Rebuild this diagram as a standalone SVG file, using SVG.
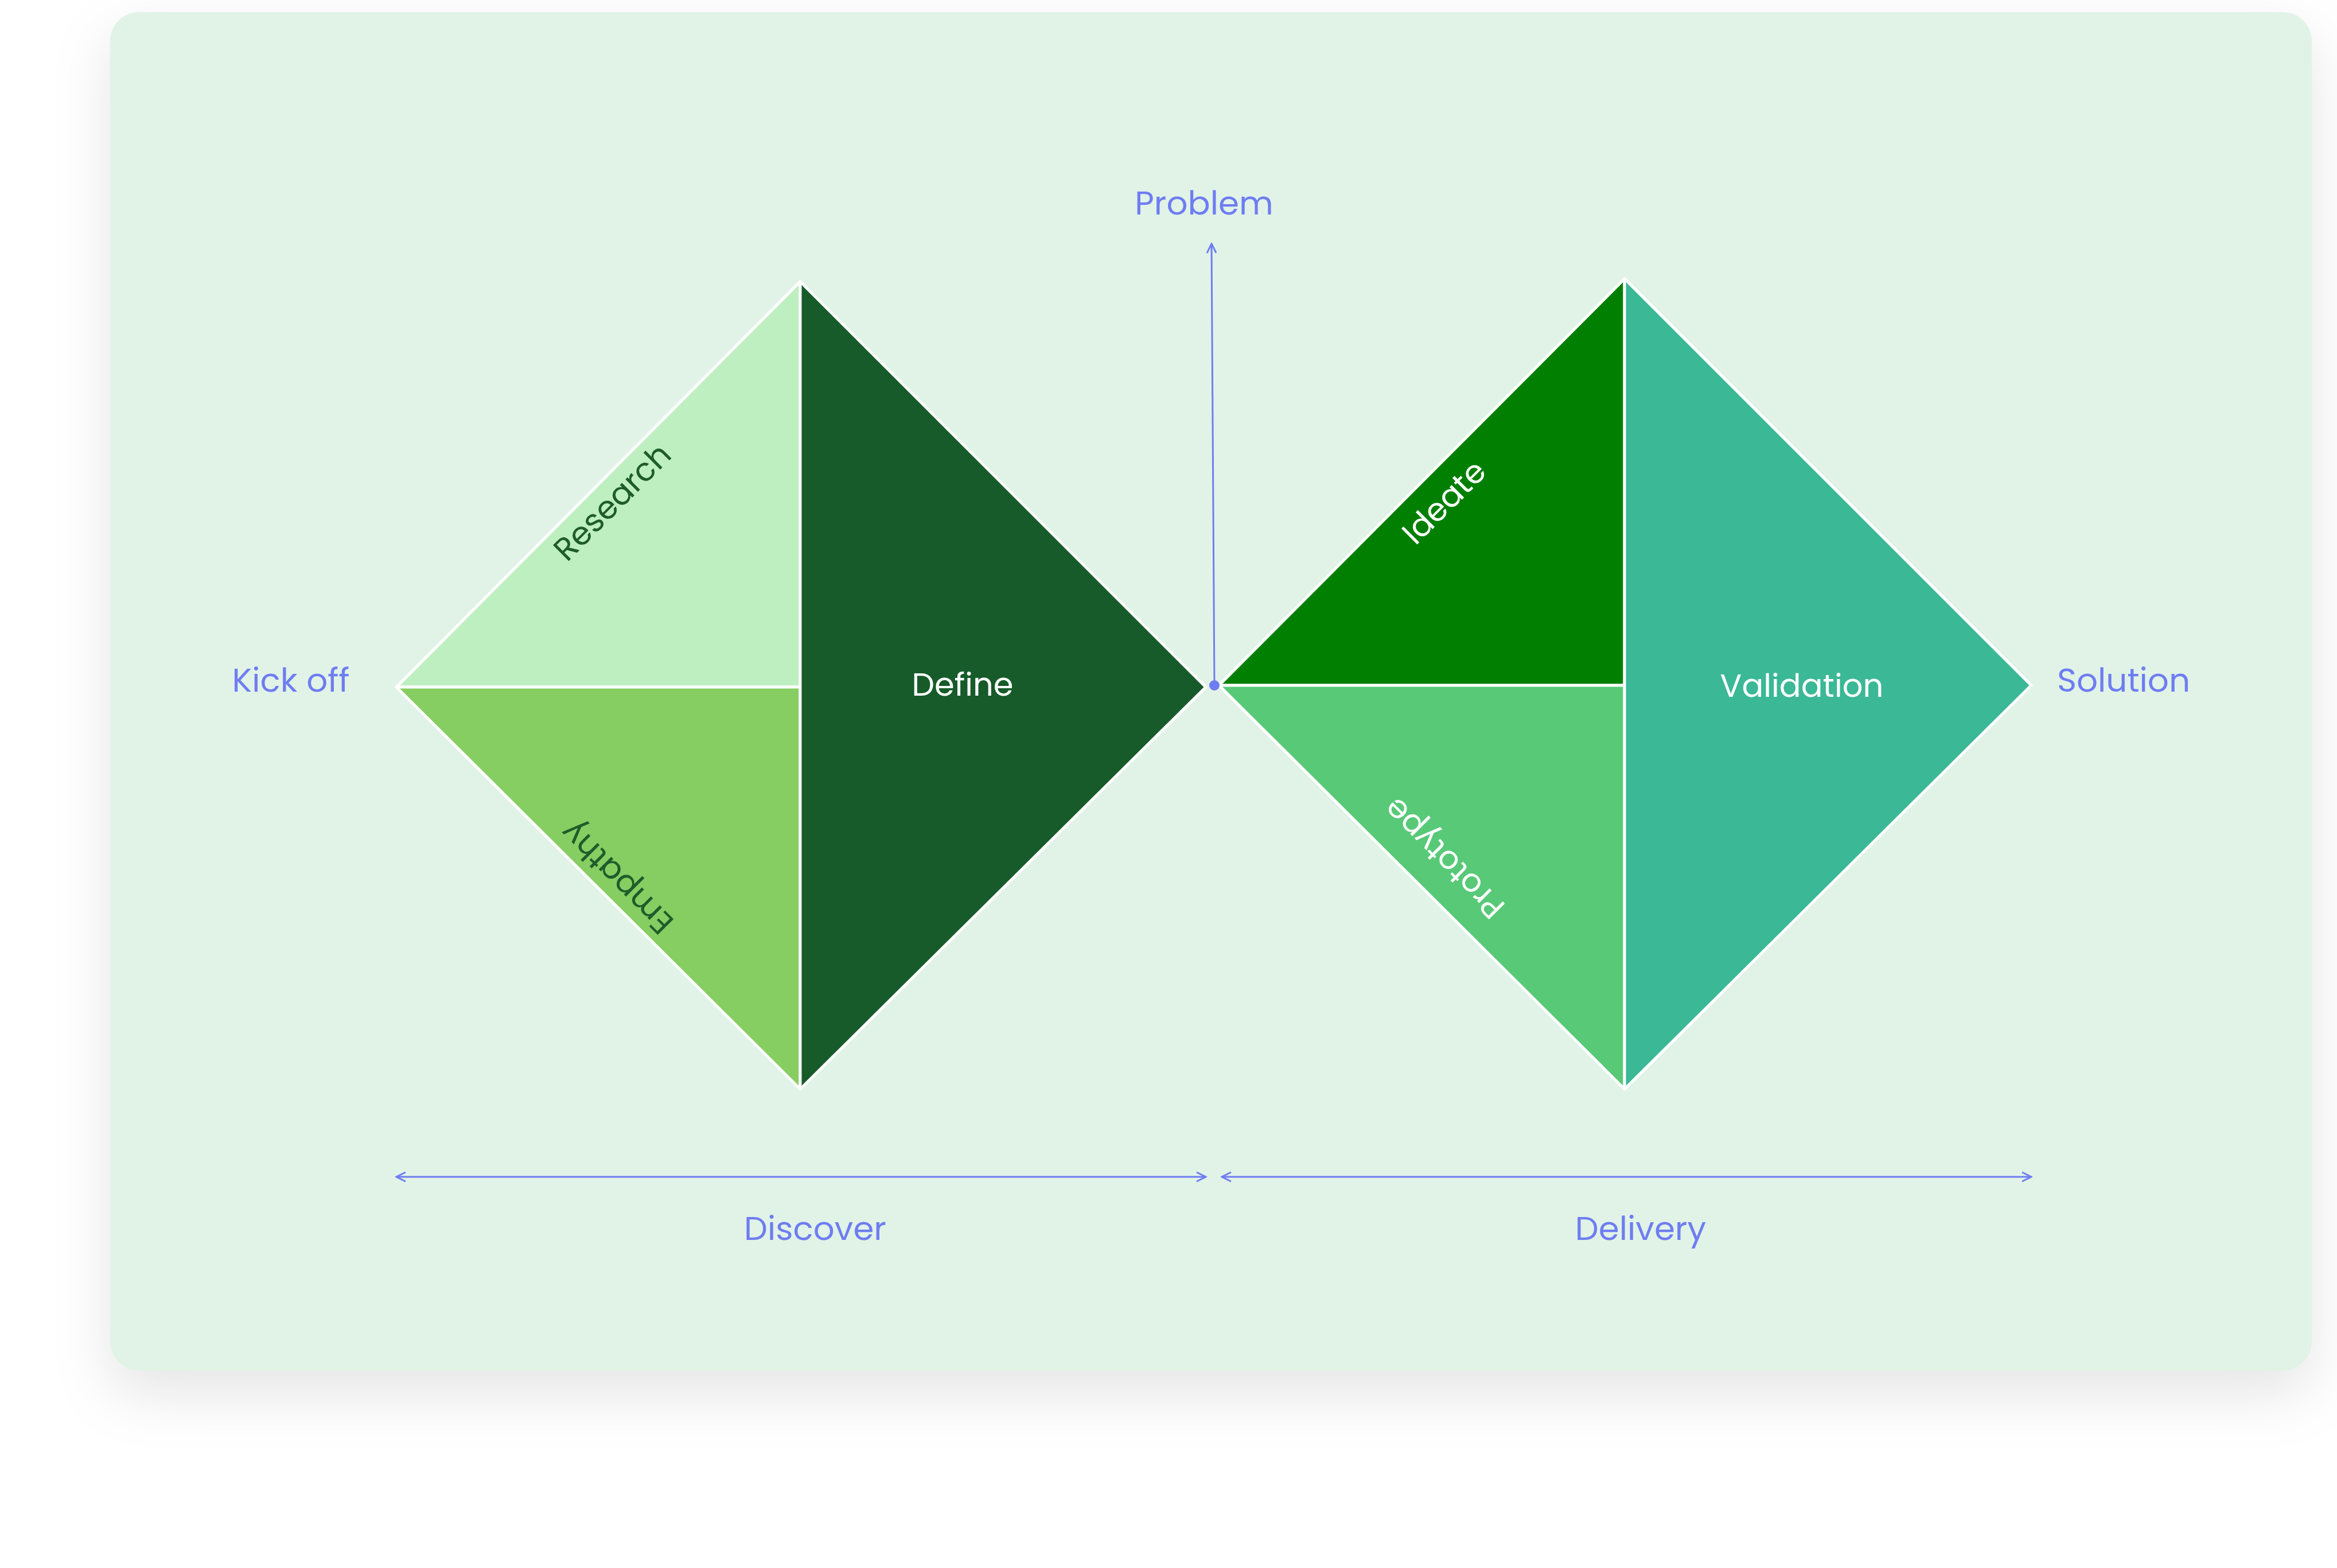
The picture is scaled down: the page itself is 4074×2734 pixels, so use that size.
<svg xmlns="http://www.w3.org/2000/svg" width="4074" height="2734" viewBox="0 0 4074 2734">
<style>
.lbl{font-family:Poppins,Inter,"Open Sans",sans-serif;font-size:58px;fill:#6F7DF2;text-anchor:middle;dominant-baseline:middle}
.t{font-family:Poppins,Inter,"Open Sans",sans-serif;font-size:56px;text-anchor:middle;dominant-baseline:middle}
.tri{stroke:#ffffff;stroke-width:5;stroke-linejoin:round}
.ln{stroke:#6F7DF2;stroke-width:3;fill:none}
</style>
<defs>
<filter id="sh" x="-10%" y="-10%" width="120%" height="130%"><feDropShadow dx="0" dy="40" stdDeviation="50" flood-color="#000" flood-opacity="0.1"/></filter>
<marker id="ar" viewBox="0 0 20 20" refX="18" refY="10" markerWidth="20" markerHeight="20" markerUnits="userSpaceOnUse" orient="auto-start-reverse"><path d="M2,2 L18,10 L2,18" fill="none" stroke="#6F7DF2" stroke-width="3"/></marker>
</defs>
<rect width="4074" height="2734" fill="#ffffff"/>
<rect x="192" y="21" width="3838" height="2369" rx="50" fill="#E1F3E7" filter="url(#sh)"/>
<g id="research"><polygon class="tri" points="691,1198 1395,491 1395,1198" fill="#BEEFC0"/><text class="t" fill="#1E5C2A" transform="translate(1070,878) rotate(-45)">Research</text></g>
<g id="empathy"><polygon class="tri" points="691,1198 1395,1198 1395,1899" fill="#86CD62"/><text class="t" fill="#1E5C2A" transform="translate(1078,1528) rotate(225)">Empathy</text></g>
<g id="define"><polygon class="tri" points="1395,491 2102,1198 1395,1899" fill="#165B29"/><text class="t" fill="#ffffff" x="1678" y="1198">Define</text></g>
<g id="ideate"><polygon class="tri" points="2125,1195 2832,486 2832,1195" fill="#007F00"/><text class="t" fill="#ffffff" transform="translate(2520,878) rotate(-45)">Ideate</text></g>
<g id="prototype"><polygon class="tri" points="2125,1195 2832,1195 2832,1899" fill="#58C977"/><text class="t" fill="#ffffff" transform="translate(2520,1494) rotate(225)">Prototype</text></g>
<g id="validation"><polygon class="tri" points="2832,486 3541,1195 2832,1899" fill="#3BB896"/><text class="t" fill="#ffffff" x="3141" y="1200">Validation</text></g>
<g id="connectors">
<line class="ln" x1="2117" y1="1195" x2="2112" y2="425" marker-end="url(#ar)"/>
<circle cx="2117" cy="1195" r="9" fill="#6F7DF2"/>
<line class="ln" x1="691" y1="2052" x2="2102" y2="2052" marker-start="url(#ar)" marker-end="url(#ar)"/>
<line class="ln" x1="2130" y1="2052" x2="3541" y2="2052" marker-start="url(#ar)" marker-end="url(#ar)"/>
</g>
<g id="labels">
<text class="lbl" x="2099" y="358">Problem</text>
<text class="lbl" x="507" y="1190">Kick off</text>
<text class="lbl" x="3702" y="1190">Solution</text>
<text class="lbl" x="1421" y="2146">Discover</text>
<text class="lbl" x="2860" y="2146">Delivery</text>
</g>
</svg>
